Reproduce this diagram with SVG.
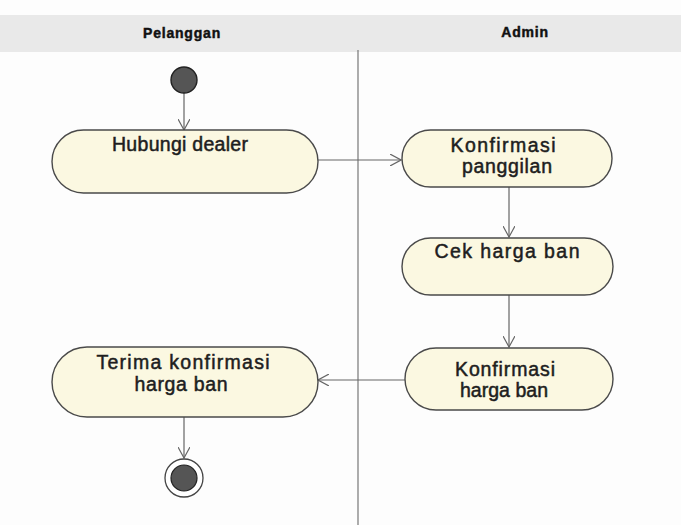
<svg xmlns="http://www.w3.org/2000/svg" width="681" height="525" viewBox="0 0 681 525">
<defs>
<marker id="open" viewBox="0 0 12 12" refX="11" refY="6" markerWidth="12" markerHeight="12" markerUnits="userSpaceOnUse" orient="auto">
<path d="M0,0 L11,6 L0,12" fill="none" stroke="#666" stroke-width="1.2"/>
</marker>
</defs>
<style>
.lane{font-family:"Liberation Sans",Arial,sans-serif;font-weight:bold;font-size:14px;letter-spacing:0.8px;fill:#111;stroke:#111;stroke-width:0.45;text-anchor:middle}
.act{fill:#fbf8e1;stroke:#4a4a4a;stroke-width:1.4}
.lbl{font-family:"Liberation Sans",Arial,sans-serif;font-size:19.5px;fill:#1e1e1e;stroke:#1e1e1e;stroke-width:0.5;text-anchor:middle}
.edge{fill:none;stroke:#666;stroke-width:1.2;marker-end:url(#open)}
</style>
<rect width="681" height="525" fill="#fdfdfd"/>
<g id="header">
<rect x="0" y="15" width="681" height="37" fill="#e9e9e9"/>
<text class="lane" x="182" y="38">Pelanggan</text>
<text class="lane" x="525" y="37">Admin</text>
</g>
<line id="divider" x1="358" y1="50" x2="358" y2="525" stroke="#777" stroke-width="1.2"/>
<g id="connectors">
<line class="edge" x1="184" y1="93" x2="184" y2="130"/>
<line class="edge" x1="318" y1="160" x2="401" y2="160"/>
<line class="edge" x1="509" y1="187" x2="509" y2="237"/>
<line class="edge" x1="509" y1="295" x2="509" y2="347"/>
<line class="edge" x1="405" y1="380" x2="318" y2="380"/>
<line class="edge" x1="184" y1="417" x2="184" y2="458"/>
</g>
<g id="start">
<circle cx="184" cy="80" r="13" fill="#555" stroke="#222" stroke-width="1.4"/>
</g>
<g id="hubungi">
<rect class="act" x="52" y="130" width="266" height="63" rx="31.5"/>
<text class="lbl" x="180" y="151" textLength="136" lengthAdjust="spacing">Hubungi dealer</text>
</g>
<g id="konfirmasi-panggilan">
<rect class="act" x="402" y="130" width="210" height="57" rx="28.5"/>
<text class="lbl" x="503" y="152" textLength="105" lengthAdjust="spacing">Konfirmasi</text>
<text class="lbl" x="507" y="173" textLength="90" lengthAdjust="spacing">panggilan</text>
</g>
<g id="cek-harga">
<rect class="act" x="402" y="238" width="211" height="57" rx="28.5"/>
<text class="lbl" x="507" y="258" textLength="145" lengthAdjust="spacing">Cek harga ban</text>
</g>
<g id="konfirmasi-harga">
<rect class="act" x="405" y="348" width="208" height="62" rx="31"/>
<text class="lbl" x="505" y="376" textLength="100" lengthAdjust="spacing">Konfirmasi</text>
<text class="lbl" x="504" y="397" textLength="88" lengthAdjust="spacing">harga ban</text>
</g>
<g id="terima">
<rect class="act" x="52" y="347" width="266" height="70" rx="35"/>
<text class="lbl" x="183" y="369" textLength="173" lengthAdjust="spacing">Terima konfirmasi</text>
<text class="lbl" x="181" y="391" textLength="93" lengthAdjust="spacing">harga ban</text>
</g>
<g id="end">
<circle cx="184" cy="478" r="19" fill="#fff" stroke="#444" stroke-width="1.3"/>
<circle cx="184" cy="478" r="13" fill="#555" stroke="#222" stroke-width="1.2"/>
</g>
</svg>
